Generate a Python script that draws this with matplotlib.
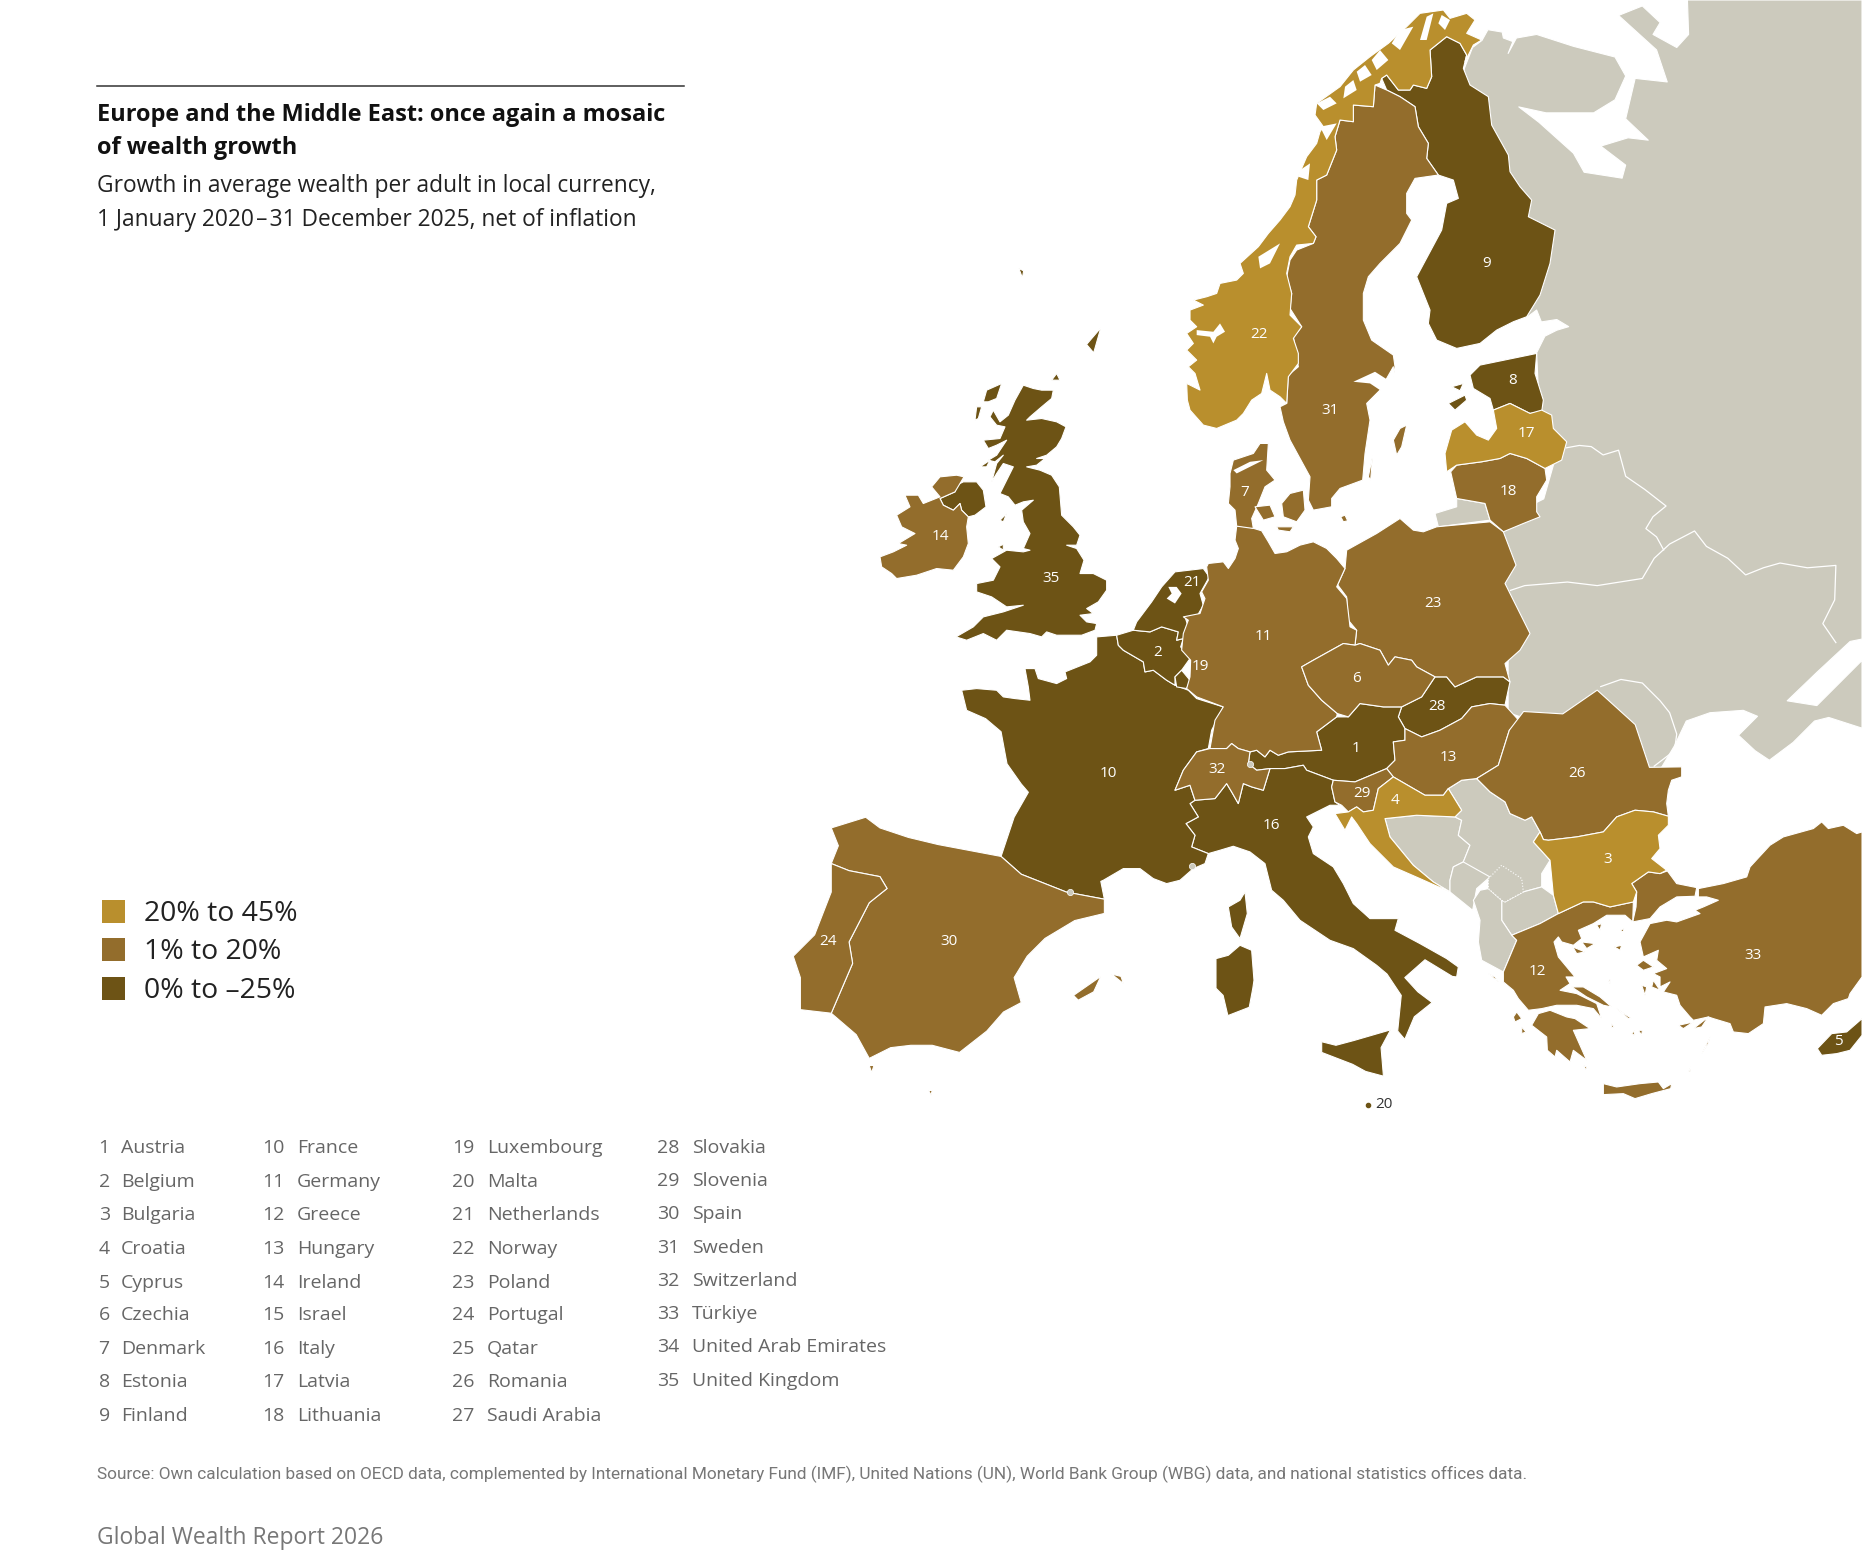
import matplotlib
matplotlib.use("Agg")
import matplotlib.pyplot as plt
from matplotlib.patches import Polygon, Rectangle

BODY = 'Open Sans'
HIGH, MID, LOW, GREY = '#B98F2D', '#936D2C', '#6D5315', '#CCCABD'

TITLE = ['Europe and the Middle East: once again a mosaic', 'of wealth growth']
SUBTITLE = ['Growth in average wealth per adult in local currency,', '1 January 2020\u200a\u2013\u200a31 December 2025, net of inflation']
LEGEND = ['20% to 45%', '1% to 20%', '0% to \u201325%']
COL1 = ['Austria', 'Belgium', 'Bulgaria', 'Croatia', 'Cyprus', 'Czechia', 'Denmark', 'Estonia', 'Finland']
COL2 = ['France', 'Germany', 'Greece', 'Hungary', 'Ireland', 'Israel', 'Italy', 'Latvia', 'Lithuania']
COL3 = ['Luxembourg', 'Malta', 'Netherlands', 'Norway', 'Poland', 'Portugal', 'Qatar', 'Romania', 'Saudi Arabia']
COL4 = ['Slovakia', 'Slovenia', 'Spain', 'Sweden', 'Switzerland', 'T\u00fcrkiye', 'United Arab Emirates', 'United Kingdom']
SOURCE = 'Source: Own calculation based on OECD data, complemented by International Monetary Fund (IMF), United Nations (UN), World Bank Group (WBG) data, and national statistics offices data.'
FOOTER = 'Global Wealth Report 2026'

# Outlines were traced on five enlarged views of the map; each view maps onto the same map units.
def view(ox, oy):
    return lambda pts: [(ox + x * 0.2807, oy + y * 0.2807) for x, y in pts]
Z1, Z2, Z3 = view(724.2, 303.2), view(993.7, 0.0), view(993.7, 202.1)
Z4, Z5 = view(1229.5, 640.0), view(926.3, 471.6)

east = [(1421,0),(1568,0),(1568,538),(1558,540),(1530,566),(1505,590),(1530,594),(1556,568),(1568,556),(1568,613),(1540,604),(1528,607),(1510,625),(1490,640),(1478,632),(1464,619),(1480,603),(1468,598),(1440,600),(1420,607),(1410,628),(1398,648),(1340,640),(1300,610),(1270,600),(1270,500),(1250,445),(1300,420),(1310,385),(1296,340),(1294,297),(1301,283),(1311,278),(1321,275),(1311,269),(1298,271),(1294,261),(1286,267),(1240,120),(1233,58),(1240,40),(1248,34),(1253,25),(1265,27),(1266,32),(1274,35),(1270,45),(1277,32),(1294,29),(1325,39),(1360,48),(1369,64),(1360,84),(1342,95),(1302,95),(1279,90),(1296,103),(1325,129),(1334,145),(1366,150),(1369,139),(1348,123),(1371,116),(1388,118),(1369,100),(1377,66),(1404,69),(1395,42),(1363,13),(1383,5),(1398,19),(1392,29),(1412,40),(1422,29)]
kaliningrad = Z3([(830,775),(915,790),(930,840),(775,860),(765,820),(830,800)])
bosnia = Z5([(855,775),(950,765),(1065,770),(1085,780),(1075,825),(1110,855),(1090,905),(1060,920),(1050,960),(1050,995),(1000,965),(940,915),(870,830)])
serbia = Z5([(1045,685),(1085,660)]) + Z4([(50,55),(90,95),(135,125),(150,160),(195,180),(215,170),(240,215),(220,245),(270,300),(245,340),(245,380),(190,395),(135,425),(85,385),(85,355),(20,320)]) + Z5([(1090,905),(1110,855),(1075,825),(1085,780),(1065,770),(1085,750)])
montenegro = Z5([(1050,960),(1060,920),(1090,905),(1170,950),(1130,985),(1118,1050),(1050,995)])
kosovo = Z4([(85,355),(125,315),(185,355),(190,395),(135,425),(125,420),(85,385)])
macedonia = Z4([(135,425),(190,395),(245,380),(280,405),(295,460),(240,490),(155,525),(125,480),(125,420)])
albania = Z4([(40,420),(60,390),(85,385),(125,420),(125,480),(155,525),(170,540),(130,635),(65,600),(55,545),(60,480)])
belarus_border = [(1319,377),(1330,375),(1340,376),(1350,383),(1363,379),(1369,401),(1385,412),(1403,426),(1392,435),(1386,445),(1395,452),(1401,463)]
ukraine_north = [(1272,497),(1284,493),(1320,490),(1345,493),(1383,487),(1393,470),(1406,458),(1427,447),(1437,460),(1455,470),(1470,484),(1485,478),(1499,474),(1522,478),(1546,476),(1545,505),(1535,525),(1546,541)]
moldova_border = [(1348,578),(1365,572),(1383,575),(1398,590),(1406,600),(1412,618),(1410,632),(1393,645)]

norway = Z2([(905,120),(880,135),(855,185),(860,165),(840,130),(800,110),(750,150),(755,230),(740,265),(700,255),(690,270),(655,270),(620,225),(605,235),(600,250),(585,255),(580,320),(520,315),(520,365),(480,360),(465,410),(470,450),(440,525),(410,540),(410,600),(385,680),(408,710),(400,730),(350,735),(330,770),(320,820),(335,880),(330,945),(365,980),(340,1015),(355,1060),(355,1090),(325,1130)]) + Z3([(320,490),(300,470),(270,450),(260,400),(245,460),(215,480),(190,520),(170,540),(110,565),(70,555),(30,510),(22,480),(20,430),(60,450),(45,400),(25,380),(50,360),(20,330),(40,310),(20,280),(50,260),(30,240),(30,210),(70,195),(40,180),(80,170),(110,160),(120,130),(170,120),(190,100)]) + Z2([(180,790),(235,740),(265,700),(300,660),(330,620),(345,585),(350,540),(380,470),(410,430),(420,395),(430,380),(405,345),(410,310),(480,260),(520,210),(570,170),(625,130),(680,80),(720,40),(790,30),(810,55),(860,40),(885,60),(860,100)])
finland = Z2([(800,110),(840,130),(860,165),(850,205),(870,255),(925,290),(935,375),(985,465),(990,515),(1020,560),(1055,600),(1045,650),(1125,690),(1110,790),(1080,885),(1040,950),(1000,965),(950,990),(900,1030),(830,1045),(770,1020),(745,970),(750,930),(710,830),(785,690),(800,610),(835,595),(820,540),(775,525),(740,475),(745,430),(715,380),(705,320),(660,290),(620,270),(605,235),(620,225),(655,270),(690,270),(700,255),(740,265),(755,230),(750,150)])
sweden = Z2([(585,255),(620,270),(660,290),(705,320),(715,380),(745,430),(740,475),(775,525),(705,535),(680,580),(680,640),(695,660),(660,730),(600,790),(565,830),(550,880),(550,960),(575,1020),(640,1065),(645,1100),(640,1130)]) + Z3([(640,380),(600,450),(560,490),(570,540),(555,640),(548,720),(480,745),(455,775),(455,800),(400,810),(385,780),(390,710),(330,600),(310,545),(300,500),(320,490),(325,405),(355,380),(340,290),(365,260),(330,205),(335,160),(320,110),(330,60),(350,30),(400,10)]) + Z2([(408,710),(385,680),(410,600),(410,540),(440,525),(470,450),(465,410),(480,360),(520,365),(520,315),(580,320)])
gotland = Z3([(640,600),(660,565),(680,555),(665,620),(650,645)])
oland = Z3([(565,710),(578,645),(572,720)])
estonia = Z3([(870,405),(900,375),(1070,340),(1065,400),(1090,480),(1085,515),(1050,520),(990,490),(940,510),(930,475),(880,445)])
saaremaa = Z3([(805,490),(855,465),(860,480),(825,510)])
hiiumaa = Z3([(815,440),(850,430),(840,452)])
latvia = Z3([(940,510),(990,490),(1050,520),(1085,510),(1115,525),(1120,565),(1160,605),(1145,660),(1095,685),(1040,655),(990,640),(960,655),(905,665),(830,675),(800,695),(795,640),(815,570),(855,545),(890,585),(925,600),(950,565)])
lithuania = Z3([(812,695),(830,675),(905,665),(960,655),(990,640),(1040,655),(1095,685),(1100,720),(1070,770),(1070,815),(1080,830),(1030,850),(970,875),(930,840),(915,790),(830,775)])
poland = Z3([(495,985),(500,930),(590,880),(660,835),(700,870),(730,875),(770,860),(930,845),(970,875),(1008,975),(975,1030),(1050,1180)]) + Z5([(1260,270),(1215,310),(1230,365),(1210,350),(1130,350),(1065,380),(1040,350),(1005,350),(950,320),(935,300),(885,290),(865,315),(840,270),(780,250),(765,255),(770,210),(745,180),(740,110),(710,70)]) + Z3([(470,1040)])
germany = Z3([(85,970),(130,965),(145,985),(165,955),(175,925),(165,900),(170,858),(205,860),(245,872),(265,905),(285,940),(320,935),(360,915),(400,905),(440,925),(470,955),(495,985),(470,1040),(500,1075),(510,1160)]) + Z5([(770,210),(765,255),(730,250),(640,300),(605,320),(625,375),(665,420),(712,460),(710,470),(650,515),(665,570),(565,575),(535,585),(510,570),(495,590),(470,570),(450,575),(415,565),(395,550),(380,565),(330,565),(345,480),(370,440),(290,410),(260,385),(270,350),(272,300),(245,270),(250,220),(265,180),(250,170),(300,160),(315,115),(305,95),(325,60),(320,20)])
czechia = Z5([(605,320),(640,300),(730,250),(765,255),(780,250),(840,270),(865,315),(885,290),(935,300),(950,320),(1005,350),(965,410),(905,440),(850,440),(780,430),(745,470),(712,460),(665,420),(625,375)])
slovakia = Z5([(1005,350),(1040,350),(1065,380),(1130,350),(1210,350),(1230,365),(1215,435),(1170,430),(1115,440),(1085,475),(1020,510),(965,530),(915,505),(895,470),(905,440),(965,410)])
austria = Z5([(450,575),(470,570),(495,590),(510,570),(535,585),(565,575),(665,570),(650,515),(710,470),(745,470),(780,430),(850,440),(905,440),(895,470),(915,505),(915,540),(880,545),(885,600),(860,625),(765,665),(700,660),(620,630),(610,615),(555,625),(510,625),(470,630),(445,610)])
hungary = Z5([(915,505),(965,530),(1020,510),(1085,475),(1115,440),(1170,430),(1215,435),(1258,482),(1228,510),(1195,615),(1130,655),(1085,660),(1045,685),(1030,705),(975,705),(880,650),(860,625),(885,600),(880,545),(915,540)])
romania = [(1283,599),(1316,601),(1345,581),(1377,610),(1389,646)] + Z4([(665,20),(665,50),(635,60),(625,90),(620,130),(625,168),(580,155),(525,150),(470,170),(430,215),(350,230),(265,240),(250,238),(240,215),(215,170),(195,180),(150,160),(135,125),(90,95),(50,55)]) + Z5([(1130,655),(1195,615),(1228,510)])
bulgaria = Z4([(250,238),(265,240),(350,230),(430,215),(470,170),(525,150),(580,155),(625,168),(625,195),(595,225),(600,265),(575,295),(620,330),(600,340),(565,335),(515,370),(530,395),(520,425),(450,440),(400,425),(370,425),(295,460),(280,405),(270,300),(220,245),(240,215)])
thrace = Z4([(515,370),(565,335),(600,340),(622,332),(650,370),(710,382),(705,408),(650,410),(600,440),(570,475),(518,485),(528,440),(530,395)])
turkey = Z4([(715,385),(790,370),(860,350),(870,320),(930,255),(970,230),(1060,205),(1085,185),(1105,205),(1150,195),(1190,220),(1206,215),(1206,650),(1170,700),(1165,715),(1120,730),(1085,765),(1040,745),(980,730),(915,740),(910,790),(865,820),(820,815),(810,790),(760,775),(745,770),(700,780),(690,770),(660,735),(650,705),(610,695),(630,665),(600,680),(600,650),(580,640),(620,625),(590,600),(595,570),(550,590),(540,545),(570,490),(620,480),(650,485),(720,460),(705,450),(730,440),(775,420),(740,410),(715,410)])
greece = Z4([(295,460),(370,425),(400,425),(450,440),(520,425),(518,485),(495,465),(440,465),(400,490),(355,510),(365,535),(340,555),(305,545),(295,530),(282,545),(295,590),(320,620),(345,650),(318,650),(330,670),(300,690),(350,700),(410,730),(425,775),(400,745),(350,735),(290,735),(245,745),(205,750),(175,715),(160,690),(130,665),(130,635),(170,540),(155,525),(240,490)])
evia = Z4([(335,680),(370,680),(420,710),(455,740),(430,735),(380,710)])
peloponnese = Z4([(215,795),(235,760),(270,750),(320,770),(345,775),(390,805),(340,810),(380,900),(340,870),(330,905),(290,870),(285,890),(262,870),(260,830)])
crete = Z4([(430,970),(470,980),(540,970),(595,965),(610,985),(635,970),(632,985),(575,1000),(525,1015),(490,1000),(430,1003)])
isles = [Z4(p) for p in [[(530,615),(550,600),(580,620),(550,630)],[(545,675),(560,680),(555,705)],[(580,660),(600,690),(575,680)],[(725,880),(750,830),(745,850)],[(463,560),(485,555),(480,570)],[(480,510),(492,505),(490,515)],[(410,495),(425,490),(420,510)],[(515,820),(525,810),(522,825)],[(535,810),(547,810),(545,825)],[(445,660),(450,658),(450,670)],[(470,745),(515,775),(505,775)],[(455,790),(462,800),(455,803)],[(655,795),(700,785),(670,805)],[(700,805),(745,770),(725,800)],[(685,935),(692,920),(690,935)],[(160,770),(170,755),(185,775),(165,785)],[(185,800),(198,815),(185,820)],[(85,640),(105,650),(115,665)],[(370,915),(380,920),(380,932)],[(338,560),(375,575),(350,580)],[(365,545),(405,550),(380,565)]]]
cyprus = Z4([(1072,865),(1115,820),(1160,815),(1206,775),(1206,825),(1170,870),(1130,880),(1085,885)])
italy = Z5([(285,720),(345,715),(380,670),(395,695),(415,730),(430,670),(455,680),(490,690),(510,625),(555,625),(610,615),(620,630),(700,660),(695,680),(705,725),(720,735),(690,735),(620,770),(640,800),(625,830),(640,880),(700,920),(730,970),(760,1030),(810,1075),(895,1075),(885,1110),(960,1150),(1040,1195),(1075,1220),(1070,1250)]) + [(1223,822),(1200,808),(1183,823),(1194,835),(1206,844),(1191,856),(1183,875),(1177,868),(1180,838),(1168,820)] + Z5([(830,1215),(760,1165),(690,1140),(600,1080),(550,1020),(515,990),(495,910),(450,875),(400,858),(360,870),(325,880),(275,860),(285,825),(258,790),(295,770),(270,730)])
sicily = [(1113,877),(1125,880),(1140,876),(1171,867),(1163,882),(1165,906),(1150,902),(1139,896),(1113,886)]
sardinia = Z5([(348,1195),(385,1185),(420,1155),(455,1170),(462,1260)]) + [(1055,832),(1052,848),(1034,855),(1030,838),(1024,832)]
corsica = Z5([(385,1040),(420,1020),(435,995),(442,1060),(420,1135),(395,1100)])
france = Z1([(305,990),(350,985),(410,990),(430,1010),(465,1015),(510,1020),(505,980),(495,925),(525,925),(535,955),(590,970),(620,955),(615,935),(690,905),(710,885),(710,830),(770,825),(775,855),(790,870),(850,905),(855,935),(880,930),(920,960),(945,975),(985,990),(1010,1015),(1090,1040)]) + Z5([(335,510),(325,565),(290,575),(250,630),(225,690),(270,675),(285,720),(270,730),(295,770),(258,790),(285,825),(275,860),(325,880),(315,910),(280,925),(240,960),(200,970),(160,955),(120,925),(70,925),(10,960)]) + [(927,742),(930,757),(898,751),(860,736),(843,721),(850,700),(854,688),(866,667),(860,660),(848,643),(843,616),(830,605),(814,598)]
switzerland = Z5([(290,575),(330,565),(380,565),(395,550),(415,565),(450,575),(445,610),(470,630),(510,625),(490,690),(455,680),(430,670),(415,730),(395,695),(380,670),(345,715),(285,720),(270,675),(225,690),(250,630)])
belgium = Z1([(770,825),(820,810),(870,815),(905,800),(955,815),(950,840),(970,835),(962,860),(990,895),(965,930),(945,950),(945,975),(920,960),(880,930),(855,935),(850,905),(790,870),(775,855)])
luxembourg = Z1([(965,930),(990,960),(980,985),(950,980),(945,950)])
netherlands = Z1([(905,680),(945,635),(1030,625),(1048,650),(1020,700),(1030,735),(1010,770),(975,770),(985,800),(970,835),(950,840),(955,815),(905,800),(870,815),(820,810),(830,785),(875,725)])
britain = Z1([(490,75),(520,85),(545,90),(580,90),(575,115),(545,140),(510,170),(500,180),(545,175),(590,185),(618,200),(605,235),(590,260),(560,285),(530,295),(555,295),(530,315),(500,320),(540,330),(575,345),(598,380),(605,465),(640,500),(660,525),(650,555),(620,555),(650,565),(672,600),(660,640),(700,640),(740,660),(740,690),(715,725),(680,745),(700,760),(660,765),(680,785),(710,790),(705,810),(665,825),(590,825),(560,815),(545,830),(510,820),(440,810),(410,840),(370,820),(320,840),(288,830),(340,800),(370,770),(430,755),(490,735),(440,740),(395,710),(350,695),(350,670),(400,660),(420,620),(395,595),(440,570),(490,575),(510,570),(490,565),(510,520),(490,485),(485,450),(520,420),(490,425),(465,435),(445,410),(420,400),(440,360),(460,320),(430,310),(410,340),(395,365),(410,310),(430,285),(405,305),(385,300),(410,285),(440,240),(410,255),(385,265),(370,240),(420,235),(435,200),(410,195),(390,170),(400,150),(420,185),(445,165),(465,120)])
n_ireland = Z1([(240,415),(285,395),(290,375),(310,365),(350,365),(370,390),(378,440),(345,465),(325,470),(305,450),(300,430),(280,450),(250,435)])
lewis = Z1([(380,90),(425,70),(410,115),(385,125),(370,125)])
uist = Z1([(345,180),(350,140),(365,140),(355,175)])
skye = Z1([(360,320),(390,300),(380,320)])
orkney = Z1([(575,60),(590,40),(600,60)])
anglesey = Z1([(415,560),(430,552),(430,570)])
man = Z1([(420,480),(440,460),(430,485)])
shetland = [(915,290),(927,276),(921,297)]
faroe = [(858,226),(862,228),(861,234)]
ireland = Z1([(135,405),(175,405),(190,430),(240,410),(215,380),(240,350),(290,345),(312,350),(285,395),(240,415),(250,435),(280,450),(300,430),(305,450),(325,470),(320,500),(325,550),(310,590),(280,630),(230,625),(170,645),(110,655),(95,640),(65,620),(60,590),(100,575),(140,555),(115,550),(165,520),(125,500),(110,465),(150,440)])
jutland = Z3([(150,700),(160,660),(220,640),(240,610),(265,610),(260,690),(285,720),(255,740),(235,790),(215,835),(220,865),(170,858),(165,810),(145,790),(150,740)])
funen = Z3([(225,800),(270,795),(285,830),(250,840)])
zealand = Z3([(305,790),(330,760),(370,750),(375,810),(350,845),(310,830)])
lolland = Z3([(290,860),(340,860),(330,875),(295,870)])
bornholm = Z3([(482,830),(495,825),(503,842),(490,845)])
spain = [(700,697),(729,688),(741,697),(765,705),(790,711),(843,721),(860,736),(898,751),(930,757),(930,769),(905,775),(880,790),(865,805),(854,823),(860,844),(845,852),(831,868),(808,886),(785,880),(767,880),(750,882),(732,891),(721,871),(700,853),(718,811),(715,793),(732,760),(747,748),(741,738),(715,733),(700,727),(706,712)]
portugal = [(700,727),(715,733),(741,738),(747,748),(732,760),(715,793),(718,811),(700,853),(674,850),(674,823),(668,805),(686,787),(700,751)]
mallorca = [(904,838),(927,822),(921,835),(908,842)]
menorca = [(936,820),(944,822),(946,828)]
ceuta = [(732,897),(736,897),(734,903)]
melilla = [(782,918),(785,918),(784,922)]
croatia = Z5([(880,650),(975,705),(1030,705),(1045,685),(1085,750),(1065,770),(950,765),(855,775),(870,830),(940,915),(1000,965),(1050,995),(960,955),(880,920),(810,850),(770,790),(755,770),(735,810),(705,760),(745,755),(770,740),(790,755),(820,750),(835,685)])
slovenia = Z5([(695,680),(700,660),(765,665),(860,625),(880,650),(835,685),(820,750),(790,755),(770,740),(745,755),(725,735),(705,725)])

NORWAY_CUTS = [Z2(p) for p in [[(740,50),(760,40),(740,120),(720,120)],[(785,45),(810,60),(795,90),(775,70)],[(660,90),(700,80),(660,150),(635,130)],[(575,180),(600,150),(625,180),(590,210)],[(530,215),(555,195),(575,225),(540,245)],[(495,260),(520,240),(530,270),(490,295)],[(410,310),(450,290),(470,310),(430,330)],[(420,380),(470,370),(440,420)],[(360,510),(390,490),(385,540),(355,530)],[(235,770),(300,730),(270,790),(240,805)]]]
SOGNE_CUT = Z3([(50,270),(100,275),(120,250),(135,275),(110,290),(100,310),(90,290),(50,285)])
MALAREN_CUT = Z3([(520,425),(585,395),(640,430),(600,450),(570,430)])
LIMFJORD_CUT = Z3([(160,690),(210,665),(250,660),(210,680),(170,700)])
IJSSEL_CUT = Z1([(925,680),(950,680),(965,700),(945,730),(920,715),(935,700)])
CUTS = NORWAY_CUTS + [SOGNE_CUT, MALAREN_CUT, LIMFJORD_CUT, IJSSEL_CUT]

MAP_LOW = [finland, estonia, saaremaa, hiiumaa, slovakia, austria, cyprus, italy, sicily, sardinia, corsica, france, belgium, luxembourg, netherlands, britain, n_ireland, lewis, uist, skye, orkney, anglesey, man, shetland, faroe]
MAP_MID = [sweden, gotland, oland, lithuania, poland, germany, czechia, hungary, romania, thrace, turkey, greece, evia, peloponnese, crete, switzerland, ireland, spain, portugal, mallorca, menorca, ceuta, melilla, slovenia, jutland, funen, zealand, lolland, bornholm] + isles
MAP_HIGH = [norway, latvia, bulgaria, croatia]
MAP_GREY = [east, kaliningrad, bosnia, serbia, montenegro, macedonia, albania]
BORDERS = [belarus_border, ukraine_north, moldova_border]
MICROSTATES_X = [1053, 1004, 901]
MICROSTATES_Y = [643, 729, 751]

LABEL_IDS = ['1','2','3','4','5','6','7','8','9','10','11','12','13','14','16','17','18','19','21','22','23','24','26','28','29','30','31','32','33','35']
LABEL_X = [1142,975,1354,1175,1548,1142,1048,1274,1252,933,1064,1295,1220,792,1071,1285,1270,1011,1004,1060,1207,697,1328,1210,1147,799,1120,1025,1476,885]
LABEL_Y = [630,549,724,674,877,571,415,320,222,651,536,818,638,452,695,365,414,561,490,282,508,793,651,595,668,793,346,648,804,487]

W, H = 1862, 1562
fig = plt.figure(figsize=(W/100, H/100), dpi=100, facecolor='white')
ax = fig.add_axes([0, 0, 1, 1])
ax.set_xlim(0, 1568)
ax.set_ylim(1315, 0)
ax.axis('off')

for group, col in [(MAP_GREY, GREY), (MAP_LOW, LOW), (MAP_MID, MID), (MAP_HIGH, HIGH)]:
    for pts in group:
        ax.add_patch(Polygon(pts, closed=True, facecolor=col, edgecolor='white', linewidth=0.8, joinstyle='round'))
ax.add_patch(Polygon(kosovo, closed=True, facecolor=GREY, edgecolor='white', linewidth=0.8, linestyle=':'))
for pts in CUTS:
    ax.add_patch(Polygon(pts, closed=True, facecolor='white', edgecolor='none'))
for line in BORDERS:
    ax.plot([p[0] for p in line], [p[1] for p in line], color='white', lw=0.9)
ax.plot(MICROSTATES_X, MICROSTATES_Y, 'o', ms=4.5, mfc=GREY, mec='white', mew=0.5, ls='none')
ax.plot([1152], [930], 'o', ms=3, color=LOW)
ax.text(1165, 930, '20', fontsize=11, family=BODY, color='#333333', ha='center', va='center')

for t, x, y in zip(LABEL_IDS, LABEL_X, LABEL_Y):
    ax.text(x, y, t, fontsize=11, family=BODY, color='white', ha='center', va='center')

ax.plot([82, 576], [72, 72], color='#333333', lw=1.1)
for s, y in zip(TITLE, [102, 130]):
    ax.text(82, y, s, fontsize=16.9, family=BODY, weight='bold', color='#111111', va='baseline')
for s, y in zip(SUBTITLE, [162, 190]):
    ax.text(82, y, s, fontsize=16.4, family=BODY, color='#222222', va='baseline')

for s, c, y in zip(LEGEND, [HIGH, MID, LOW], [767, 799.5, 832]):
    ax.add_patch(Rectangle((86, y-9.7), 19, 19.4, facecolor=c, edgecolor='none'))
    ax.text(121, y+8, s, fontsize=20.4, family=BODY, color='#222222', va='baseline')

rows123 = [965, 993.5, 1021.5, 1049.5, 1078, 1105.5, 1133.5, 1162, 1190]
rows4 = [964.5, 992.5, 1020.5, 1048.5, 1076.5, 1104.5, 1132.5, 1160.5]
for names_, start, xn, xs, rows in [(COL1,1,83,102,rows123),(COL2,10,221,250,rows123),(COL3,19,381,410,rows123),(COL4,28,553,583,rows4)]:
    for i, (s, y) in enumerate(zip(names_, rows)):
        ax.text(xn, y+6, str(start+i), fontsize=14, family=BODY, color='#666666', va='baseline')
        ax.text(xs, y+6, s, fontsize=14, family=BODY, color='#666666', va='baseline')

ax.text(82, 1245, SOURCE, fontsize=12.4, family='Roboto', color='#777777', va='baseline')
ax.text(82, 1300, FOOTER, fontsize=16.5, family=BODY, color='#777777', va='baseline')

fig.savefig('out.png', dpi=100, facecolor='white')
